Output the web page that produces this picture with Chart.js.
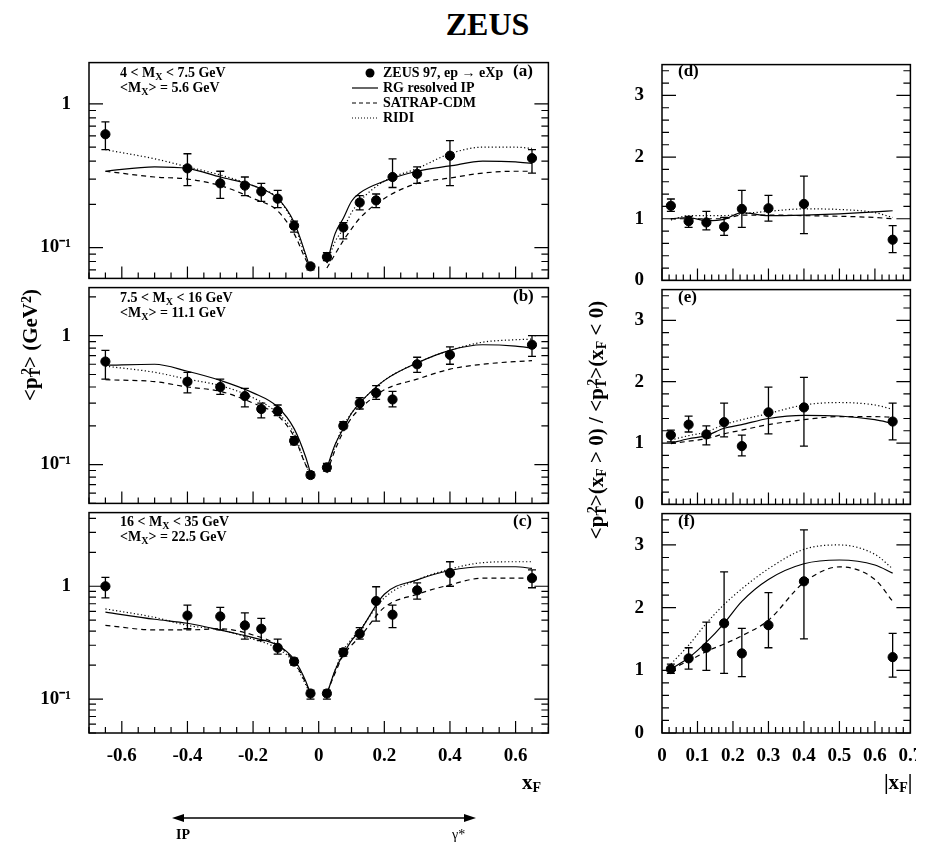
<!DOCTYPE html>
<html>
<head>
<meta charset="utf-8">
<script src="https://cdn.jsdelivr.net/npm/chart.js@4"></script>
<style>
  body { margin: 0; background: #fff; width: 925px; height: 846px; position: relative; overflow: hidden;
         font-family: "Liberation Serif", serif; font-weight: bold; color: #000; }
  canvas { position: absolute; }
  .t { position: absolute; white-space: nowrap; font-size: 14px; line-height: 14px; }
  .t sub { font-size: 10px; vertical-align: -3px; line-height: 0; }
  .t sup { font-size: 10px; vertical-align: 6px; line-height: 0; }
  .big { font-size: 21px; line-height: 21px; }
  .big sub, .big sup { font-size: 14px; }
</style>
</head>
<body>
<canvas id="pa"></canvas><canvas id="pb"></canvas><canvas id="pc"></canvas>
<canvas id="pd"></canvas><canvas id="pe"></canvas><canvas id="pf"></canvas>

<div class="t" style="left:0;width:925px;top:8px;text-align:center;font-size:32px;line-height:32px;padding-left:50px;box-sizing:border-box">ZEUS</div>

<div class="t" style="left:120px;top:66px">4 &lt; M<sub>X</sub> &lt; 7.5 GeV</div>
<div class="t" style="left:120px;top:81px">&lt;M<sub>X</sub>&gt; = 5.6 GeV</div>
<div class="t" style="left:120px;top:291px">7.5 &lt; M<sub>X</sub> &lt; 16 GeV</div>
<div class="t" style="left:120px;top:306px">&lt;M<sub>X</sub>&gt; = 11.1 GeV</div>
<div class="t" style="left:120px;top:515px">16 &lt; M<sub>X</sub> &lt; 35 GeV</div>
<div class="t" style="left:120px;top:530px">&lt;M<sub>X</sub>&gt; = 22.5 GeV</div>

<div class="t" style="left:383px;top:66px">ZEUS 97, ep &rarr; eXp</div>
<div class="t" style="left:383px;top:81px">RG resolved IP</div>
<div class="t" style="left:383px;top:96px">SATRAP-CDM</div>
<div class="t" style="left:383px;top:111px">RIDI</div>
<svg style="position:absolute;left:0;top:0" width="925" height="846">
  <circle cx="370" cy="73" r="4.5" fill="#000"/>
  <line x1="352" y1="88" x2="378" y2="88" stroke="#000" stroke-width="1.2"/>
  <line x1="352" y1="103" x2="378" y2="103" stroke="#000" stroke-width="1.2" stroke-dasharray="4,3"/>
  <line x1="352" y1="118" x2="378" y2="118" stroke="#000" stroke-width="1.2" stroke-dasharray="1,2"/>
  <line x1="176" y1="818" x2="472" y2="818" stroke="#000" stroke-width="1.5"/>
  <path d="M172 818 L184 814 L184 822 Z M476 818 L464 814 L464 822 Z" fill="#000"/>
</svg>
<div class="t" style="left:176px;top:828px">IP</div>
<div class="t" style="left:452px;top:828px;font-weight:normal">&gamma;*</div>

<div class="t" style="left:513px;top:64px;font-size:17px">(a)</div>
<div class="t" style="left:513px;top:289px;font-size:17px">(b)</div>
<div class="t" style="left:513px;top:514px;font-size:17px">(c)</div>
<div class="t" style="left:678px;top:64px;font-size:17px">(d)</div>
<div class="t" style="left:678px;top:290px;font-size:17px">(e)</div>
<div class="t" style="left:678px;top:514px;font-size:17px">(f)</div>

<div class="t big" style="left:30px;top:345px;transform:translate(-50%,-50%) rotate(-90deg)">&lt;p<sub>T</sub><sup style="margin-left:-7px">2</sup>&gt; (GeV<sup>2</sup>)</div>
<div class="t big" style="left:596px;top:420px;transform:translate(-50%,-50%) rotate(-90deg)">&lt;p<sub>T</sub><sup style="margin-left:-7px">2</sup>&gt;(x<sub>F</sub> &gt; 0) / &lt;p<sub>T</sub><sup style="margin-left:-7px">2</sup>&gt;(x<sub>F</sub> &lt; 0)</div>
<div class="t big" style="left:522px;top:772px">x<sub>F</sub></div>
<div class="t big" style="left:884px;top:772px">|x<sub>F</sub>|</div>

<script>
// x positions of the bins
const xLeft = [-0.65, -0.4, -0.3, -0.225, -0.175, -0.125, -0.075, -0.025, 0.025, 0.075, 0.125, 0.175, 0.225, 0.3, 0.4, 0.65];
const xRight = [0.025, 0.075, 0.125, 0.175, 0.225, 0.3, 0.4, 0.65];
// model curve x grid (gap around 0)
const xCurve = [-0.65, -0.5, -0.4, -0.3, -0.2, -0.125, -0.075, -0.04, -0.025, null, 0.025, 0.05, 0.075, 0.1, 0.125, 0.2, 0.3, 0.4, 0.5, 0.6, 0.65];
const xCurveR = [0.025, 0.075, 0.125, 0.175, 0.225, 0.3, 0.4, 0.5, 0.6, 0.65];

// (a) 4 < MX < 7.5 GeV
const aVal = [0.615, 0.356, 0.28, 0.27, 0.246, 0.219, 0.142, 0.074, 0.086, 0.138, 0.206, 0.213, 0.31, 0.326, 0.436, 0.419];
const aHi  = [0.75, 0.45, 0.34, 0.31, 0.28, 0.25, 0.153, 0.077, 0.092, 0.149, 0.23, 0.236, 0.415, 0.365, 0.555, 0.48];
const aLo  = [0.48, 0.27, 0.22, 0.23, 0.21, 0.19, 0.128, 0.070, 0.081, 0.115, 0.183, 0.19, 0.262, 0.28, 0.27, 0.33];
const aRG  = [0.34, 0.365, 0.356, 0.31, 0.27, 0.22, 0.15, 0.09, 0.07, null, 0.078, 0.125, 0.16, 0.21, 0.24, 0.29, 0.34, 0.37, 0.40, 0.395, 0.385];
const aSAT = [0.34, 0.31, 0.30, 0.27, 0.22, 0.18, 0.125, 0.083, 0.072, null, 0.072, 0.09, 0.112, 0.135, 0.16, 0.22, 0.28, 0.305, 0.33, 0.34, 0.34];
const aRIDI= [0.48, 0.415, 0.365, 0.32, 0.27, 0.22, 0.145, 0.087, 0.074, null, 0.078, 0.11, 0.135, 0.175, 0.21, 0.29, 0.355, 0.45, 0.50, 0.50, 0.49];

// (b) 7.5 < MX < 16 GeV
const bVal = [0.63, 0.44, 0.40, 0.34, 0.27, 0.26, 0.153, 0.083, 0.095, 0.20, 0.30, 0.36, 0.32, 0.60, 0.71, 0.85];
const bHi  = [0.77, 0.52, 0.46, 0.39, 0.30, 0.29, 0.165, 0.088, 0.102, 0.215, 0.33, 0.41, 0.37, 0.68, 0.82, 1.0];
const bLo  = [0.46, 0.36, 0.35, 0.28, 0.23, 0.24, 0.142, 0.079, 0.089, 0.19, 0.27, 0.32, 0.28, 0.52, 0.60, 0.69];
const bRG  = [0.59, 0.60, 0.53, 0.45, 0.36, 0.28, 0.19, 0.115, 0.086, null, 0.094, 0.143, 0.19, 0.25, 0.30, 0.45, 0.615, 0.77, 0.85, 0.83, 0.80];
const bSAT = [0.455, 0.44, 0.40, 0.37, 0.30, 0.24, 0.165, 0.10, 0.086, null, 0.086, 0.13, 0.18, 0.23, 0.27, 0.38, 0.46, 0.55, 0.60, 0.63, 0.64];
const bRIDI= [0.58, 0.52, 0.46, 0.41, 0.33, 0.25, 0.175, 0.10, 0.085, null, 0.09, 0.14, 0.20, 0.25, 0.30, 0.45, 0.615, 0.77, 0.89, 0.93, 0.94];

// (c) 16 < MX < 35 GeV
const cVal = [1.0, 0.55, 0.54, 0.45, 0.42, 0.285, 0.215, 0.112, 0.112, 0.26, 0.38, 0.74, 0.56, 0.92, 1.31, 1.18];
const cHi  = [1.2, 0.68, 0.65, 0.58, 0.52, 0.34, 0.23, 0.12, 0.12, 0.28, 0.43, 0.99, 0.68, 1.07, 1.65, 1.4];
const cLo  = [0.79, 0.42, 0.41, 0.34, 0.33, 0.25, 0.20, 0.10, 0.10, 0.24, 0.34, 0.49, 0.43, 0.77, 1.0, 0.97];
const cRG  = [0.59, 0.51, 0.47, 0.41, 0.35, 0.30, 0.225, 0.145, 0.11, null, 0.11, 0.18, 0.25, 0.33, 0.40, 0.85, 1.14, 1.38, 1.49, 1.49, 1.44];
const cSAT = [0.45, 0.41, 0.41, 0.42, 0.37, 0.30, 0.215, 0.14, 0.114, null, 0.114, 0.17, 0.245, 0.30, 0.355, 0.65, 0.85, 1.03, 1.18, 1.18, 1.18];
const cRIDI= [0.63, 0.53, 0.45, 0.41, 0.34, 0.28, 0.21, 0.135, 0.11, null, 0.11, 0.18, 0.27, 0.34, 0.41, 0.79, 1.14, 1.42, 1.62, 1.65, 1.65];

// (d)-(f) ratio
const dVal = [1.21, 0.96, 0.94, 0.87, 1.16, 1.17, 1.24, 0.66];
const dHi  = [1.32, 1.04, 1.12, 1.02, 1.46, 1.38, 1.69, 0.89];
const dLo  = [1.12, 0.86, 0.82, 0.73, 0.86, 0.96, 0.76, 0.45];
const dRG  = [1.0, 1.02, 0.97, 0.99, 1.10, 1.05, 1.06, 1.08, 1.11, 1.13];
const dSAT = [1.0, 1.0, 1.0, 1.0, 1.06, 1.06, 1.05, 1.04, 1.02, 1.0];
const dRIDI= [0.98, 1.05, 1.05, 1.05, 1.08, 1.12, 1.16, 1.15, 1.10, 1.02];

const eVal = [1.13, 1.30, 1.14, 1.34, 0.95, 1.50, 1.58, 1.35];
const eHi  = [1.21, 1.44, 1.28, 1.65, 1.13, 1.91, 2.07, 1.65];
const eLo  = [1.02, 1.18, 0.97, 1.10, 0.79, 1.15, 0.95, 1.05];
const eRG  = [1.0, 1.07, 1.12, 1.24, 1.30, 1.40, 1.45, 1.44, 1.38, 1.32];
const eSAT = [0.99, 1.03, 1.07, 1.15, 1.21, 1.30, 1.38, 1.43, 1.43, 1.42];
const eRIDI= [1.05, 1.12, 1.18, 1.30, 1.38, 1.48, 1.62, 1.66, 1.62, 1.55];

const fVal = [1.02, 1.19, 1.36, 1.75, 1.27, 1.72, 2.42, 1.21];
const fHi  = [1.10, 1.36, 1.77, 2.57, 1.67, 2.24, 3.24, 1.59];
const fLo  = [0.95, 1.02, 1.00, 0.95, 0.90, 1.36, 1.50, 0.89];
const fRG  = [1.02, 1.20, 1.45, 1.75, 2.10, 2.45, 2.70, 2.76, 2.68, 2.55];
const fSAT = [1.02, 1.15, 1.30, 1.42, 1.55, 1.80, 2.40, 2.65, 2.45, 2.10];
const fRIDI= [1.10, 1.40, 1.75, 2.05, 2.30, 2.62, 2.93, 3.00, 2.85, 2.62];

const tickFont = { family: "Liberation Serif", weight: "bold", size: 19 };

function pts(xs, ys) {
  return xs.map((x, i) => (x === null ? { x: NaN, y: null } : { x: x, y: ys[i] }));
}

// frame, inward ticks and error bars, drawn in ROOT style
const rootStyle = {
  id: "rootStyle",
  afterDatasetsDraw(chart) {
    const { ctx, chartArea: a, scales } = chart;
    const xs = scales.x, ys = scales.y;
    const o = chart.options.plugins.rootStyle;
    ctx.save();
    ctx.strokeStyle = "#000";
    // error bars
    const ds = chart.data.datasets[0];
    ctx.lineWidth = 1.3;
    ds.data.forEach((p, i) => {
      const px = xs.getPixelForValue(p.x);
      const hi = ys.getPixelForValue(ds.hi[i]), lo = ys.getPixelForValue(ds.lo[i]);
      ctx.beginPath();
      ctx.moveTo(px, hi); ctx.lineTo(px, lo);
      ctx.moveTo(px - 4, hi); ctx.lineTo(px + 4, hi);
      ctx.moveTo(px - 4, lo); ctx.lineTo(px + 4, lo);
      ctx.stroke();
    });
    // frame
    ctx.lineWidth = 1.5;
    ctx.strokeRect(a.left, a.top, a.right - a.left, a.bottom - a.top);
    ctx.lineWidth = 1.2;
    ctx.beginPath();
    o.xMinor.forEach((v) => {
      const px = xs.getPixelForValue(v);
      const len = o.xMajor.some((m) => Math.abs(m - v) < 1e-6) ? 12 : 6;
      ctx.moveTo(px, a.bottom); ctx.lineTo(px, a.bottom - len);
    });
    o.yMinor.forEach((v) => {
      const py = ys.getPixelForValue(v);
      if (py < a.top || py > a.bottom) return;
      const len = o.yMajor.some((m) => Math.abs(m - v) < 1e-6) ? 14 : 7;
      ctx.moveTo(a.left, py); ctx.lineTo(a.left + len, py);
      ctx.moveTo(a.right, py); ctx.lineTo(a.right - len, py);
    });
    ctx.stroke();
    ctx.restore();
  },
};

function range(a, b, s) {
  const out = [];
  for (let v = a; v <= b + 1e-9; v += s) out.push(Math.round(v * 1000) / 1000);
  return out;
}

function noPad(s) {
  s.paddingTop = 0; s.paddingBottom = 0; s.paddingLeft = 0; s.paddingRight = 0;
}

function panel(id, box, opt) {
  const cv = document.getElementById(id);
  cv.style.left = box.left + "px";
  cv.style.top = box.top + "px";
  cv.width = box.width; cv.height = box.height;
  cv.style.width = box.width + "px"; cv.style.height = box.height + "px";
  const line = (xs, ys, dash) => ({
    type: "line", data: pts(xs, ys), borderColor: "#000", borderWidth: 1.2, borderDash: dash,
    pointRadius: 0, fill: false, cubicInterpolationMode: "monotone", spanGaps: false,
  });
  new Chart(cv, {
    type: "scatter",
    data: {
      datasets: [
        { data: pts(opt.xs, opt.val), hi: opt.hi, lo: opt.lo, backgroundColor: "#000", borderColor: "#000",
          pointRadius: 4.6, pointHoverRadius: 4.6 },
        line(opt.cx, opt.rg, []),
        line(opt.cx, opt.sat, [5, 4]),
        line(opt.cx, opt.ridi, [1.2, 2.4]),
      ],
    },
    options: {
      responsive: false, animation: false, devicePixelRatio: 1,
      layout: { padding: { top: 1, right: 1, bottom: opt.showX ? 0 : 1, left: 0 } },
      plugins: { legend: { display: false }, tooltip: { enabled: false }, rootStyle: opt.ticks },
      scales: {
        x: {
          type: "linear", min: opt.xmin, max: opt.xmax,
          grid: { display: false }, border: { display: false },
          display: opt.showX,
          afterBuildTicks: (s) => { s.ticks = opt.ticks.xLabels.map((v) => ({ value: v })); },
          afterFit: (s) => { noPad(s); if (opt.showX) s.height = 32; },
          ticks: { font: tickFont, color: "#000", padding: 4, maxRotation: 0,
                   callback: (v) => (v === 0 ? "0" : String(v)) },
        },
        y: {
          type: opt.log ? "logarithmic" : "linear", min: opt.ymin, max: opt.ymax,
          grid: { display: false }, border: { display: false },
          afterBuildTicks: (s) => { s.ticks = opt.ticks.yLabels.map((v) => ({ value: v })); },
          afterFit: (s) => { noPad(s); s.width = opt.yw; },
          ticks: { font: tickFont, color: "#000", padding: 10,
                   callback: (v) => (v === 0.1 ? "10\u207B\u00B9" : String(v)) },
        },
      },
    },
    plugins: [rootStyle],
  });
}

const logMinor = [0.05, 0.06, 0.07, 0.08, 0.09, 0.1, 0.2, 0.3, 0.4, 0.5, 0.6, 0.7, 0.8, 0.9, 1, 2, 3, 4];
const leftTicks = { xLabels: [-0.6, -0.4, -0.2, 0, 0.2, 0.4, 0.6], xMajor: range(-0.6, 0.6, 0.2), xMinor: range(-0.7, 0.7, 0.05),
                    yLabels: [0.1, 1], yMajor: [0.1, 1], yMinor: logMinor };
const rightTicks = { xLabels: [0, 0.1, 0.2, 0.3, 0.4, 0.5, 0.6, 0.7], xMajor: range(0, 0.7, 0.1), xMinor: range(0, 0.7, 0.02),
                     yLabels: [0, 1, 2, 3], yMajor: [0, 1, 2, 3], yMinor: range(0, 3.4, 0.2) };

const L = { left: 0, width: 554, yw: 89 };
const R = { left: 600, width: 316, yw: 62 };

panel("pa", { left: L.left, top: 57, width: L.width, height: 227 }, { xs: xLeft, val: aVal, hi: aHi, lo: aLo, cx: xCurve, rg: aRG, sat: aSAT, ridi: aRIDI,
  xmin: -0.7, xmax: 0.7, ymin: 0.061, ymax: 1.94, log: true, yw: L.yw, showX: false, ticks: leftTicks });
panel("pb", { left: L.left, top: 282, width: L.width, height: 227 }, { xs: xLeft, val: bVal, hi: bHi, lo: bLo, cx: xCurve, rg: bRG, sat: bSAT, ridi: bRIDI,
  xmin: -0.7, xmax: 0.7, ymin: 0.05, ymax: 2.36, log: true, yw: L.yw, showX: false, ticks: leftTicks });
panel("pc", { left: L.left, top: 507, width: L.width, height: 226 + 32 }, { xs: xLeft, val: cVal, hi: cHi, lo: cLo, cx: xCurve, rg: cRG, sat: cSAT, ridi: cRIDI,
  xmin: -0.7, xmax: 0.7, ymin: 0.05, ymax: 4.5, log: true, yw: L.yw, showX: true, ticks: leftTicks });
panel("pd", { left: R.left, top: 59, width: R.width, height: 227 }, { xs: xRight, val: dVal, hi: dHi, lo: dLo, cx: xCurveR, rg: dRG, sat: dSAT, ridi: dRIDI,
  xmin: 0, xmax: 0.7, ymin: 0, ymax: 3.5, log: false, yw: R.yw, showX: false, ticks: rightTicks });
panel("pe", { left: R.left, top: 284, width: R.width, height: 226 }, { xs: xRight, val: eVal, hi: eHi, lo: eLo, cx: xCurveR, rg: eRG, sat: eSAT, ridi: eRIDI,
  xmin: 0, xmax: 0.7, ymin: 0, ymax: 3.5, log: false, yw: R.yw, showX: false, ticks: rightTicks });
panel("pf", { left: R.left, top: 508, width: R.width, height: 225 + 32 }, { xs: xRight, val: fVal, hi: fHi, lo: fLo, cx: xCurveR, rg: fRG, sat: fSAT, ridi: fRIDI,
  xmin: 0, xmax: 0.7, ymin: 0, ymax: 3.5, log: false, yw: R.yw, showX: true, ticks: rightTicks });
</script>
</body>
</html>
